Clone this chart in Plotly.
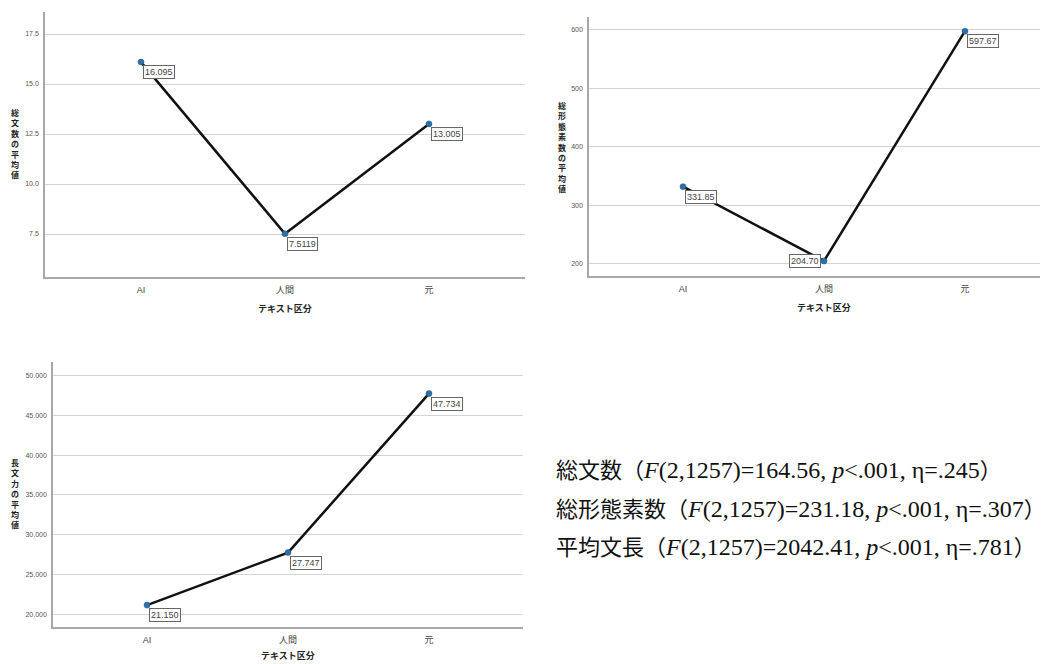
import plotly.graph_objects as go

categories = ["AI", "人間", "元"]

sent_vals = [16.095, 7.5119, 13.005]
sent_labels = ["16.095", "7.5119", "13.005"]

morph_vals = [331.85, 204.70, 597.67]
morph_labels = ["331.85", "204.70", "597.67"]

len_vals = [21.150, 27.747, 47.734]
len_labels = ["21.150", "27.747", "47.734"]

y_titles = ["総文数の平均値", "総形態素数の平均値", "長文力の平均値"]
x_title = "テキスト区分"

stats_lines = [
    ("総文数", "164.56", ".245"),
    ("総形態素数", "231.18", ".307"),
    ("平均文長", "2042.41", ".781"),
]

# page body has an 8px margin; work in screen pixels and convert
OFF = 8
W, H = 1040, 656
def px(x):
    return (x - OFF) / W
def py(y):
    return 1 - (y - OFF) / H

fig = go.Figure()

panels = [
    dict(vals=sent_vals, labels=sent_labels, xa="x", ya="y",
         xdom=[px(45), px(525)], ydom=[py(277), py(12)],
         xr=[-0.667, 2.667], yr=[5.35, 18.6], dtick=2.5, fmt=".1f", tick0=7.5,
         title=y_titles[0], tx=15, ty=143, xtx=285, xty=308,
         anch=["left", "left", "left"]),
    dict(vals=morph_vals, labels=morph_labels, xa="x2", ya="y2",
         xdom=[px(589), 1.0], ydom=[py(276), py(17)],
         xr=[-0.667, 2.589], yr=[179, 622], dtick=100, fmt="d", tick0=200,
         title=y_titles[1], tx=562, ty=147, xtx=824, xty=307,
         anch=["left", "right", "left"]),
    dict(vals=len_vals, labels=len_labels, xa="x3", ya="y3",
         xdom=[px(53), px(523)], ydom=[py(627), py(362)],
         xr=[-0.667, 2.667], yr=[18.4, 51.7], dtick=5, fmt=".3f", tick0=20,
         title=y_titles[2], tx=15, ty=493, xtx=288, xty=655,
         anch=["left", "left", "left"]),
]

annotations = []
layout_axes = {}
for i, p in enumerate(panels):
    fig.add_trace(go.Scatter(
        x=categories, y=p["vals"], xaxis=p["xa"], yaxis=p["ya"],
        mode="lines+markers",
        line=dict(color="#111111", width=2.5),
        marker=dict(color="#2f6fa8", size=6, line=dict(color="#1d4f80", width=0.5)),
        showlegend=False, hoverinfo="skip"))
    sfx = "" if i == 0 else str(i + 1)
    layout_axes["xaxis" + sfx] = dict(
        domain=p["xdom"], anchor=p["ya"], range=p["xr"], type="category",
        automargin=False,
        showgrid=False, zeroline=False, showline=True, linecolor="#a8a8a8", linewidth=1.5,
        ticks="", ticklabelstandoff=3,
        tickfont=dict(family="Liberation Sans, Noto Sans CJK JP", size=9, color="#444444"))
    layout_axes["yaxis" + sfx] = dict(
        domain=p["ydom"], anchor=p["xa"], range=p["yr"], tick0=p["tick0"], dtick=p["dtick"],
        automargin=False,
        tickformat=p["fmt"], showgrid=True, gridcolor="#d4d4d4", gridwidth=1,
        zeroline=False, showline=True, linecolor="#a8a8a8", linewidth=1.5,
        ticks="", ticklabelstandoff=3,
        tickfont=dict(family="Liberation Sans", size=7, color="#555555"))
    for c, v, lab, an in zip(categories, p["vals"], p["labels"], p["anch"]):
        if an == "left":
            annotations.append(dict(
                x=c, y=v, xref=p["xa"], yref=p["ya"], text=lab, showarrow=False,
                xanchor="left", yanchor="top", xshift=2, yshift=-3,
                bgcolor="white", bordercolor="#666666", borderwidth=1, borderpad=1,
                font=dict(family="Liberation Sans", size=9, color="#444444")))
        else:
            annotations.append(dict(
                x=c, y=v, xref=p["xa"], yref=p["ya"], text=lab, showarrow=False,
                xanchor="right", yanchor="middle", xshift=-3, yshift=0,
                bgcolor="white", bordercolor="#666666", borderwidth=1, borderpad=1,
                font=dict(family="Liberation Sans", size=9, color="#444444")))
    annotations.append(dict(
        x=px(p["tx"]), y=py(p["ty"]), xref="paper", yref="paper",
        text="<br>".join("<b>" + ch + "</b>" for ch in p["title"]),
        showarrow=False, xanchor="center", yanchor="middle",
        font=dict(family="Noto Sans CJK JP", size=8, color="#222222")))
    annotations.append(dict(
        x=px(p["xtx"]), y=py(p["xty"]), xref="paper", yref="paper",
        text="<b>" + x_title + "</b>", showarrow=False, xanchor="center", yanchor="middle",
        font=dict(family="Noto Sans CJK JP", size=9, color="#222222")))

for k, (name, fval, eta) in enumerate(stats_lines):
    txt = (f"{name}（<span style='font-size:24px'><i>F</i>(2,1257)={fval}, "
           f"<i>p</i>&lt;.001, η={eta}</span>）")
    annotations.append(dict(
        x=px(554), y=py(470 + 38.5 * k), xref="paper", yref="paper",
        text=txt, showarrow=False, xanchor="left", yanchor="middle",
        font=dict(family="Liberation Serif, Noto Sans CJK JP", size=22, color="#111111")))

fig.update_layout(
    width=W, height=H, margin=dict(l=0, r=0, t=0, b=0),
    paper_bgcolor="white", plot_bgcolor="white",
    annotations=annotations, **layout_axes)

fig.write_html("out.html")
